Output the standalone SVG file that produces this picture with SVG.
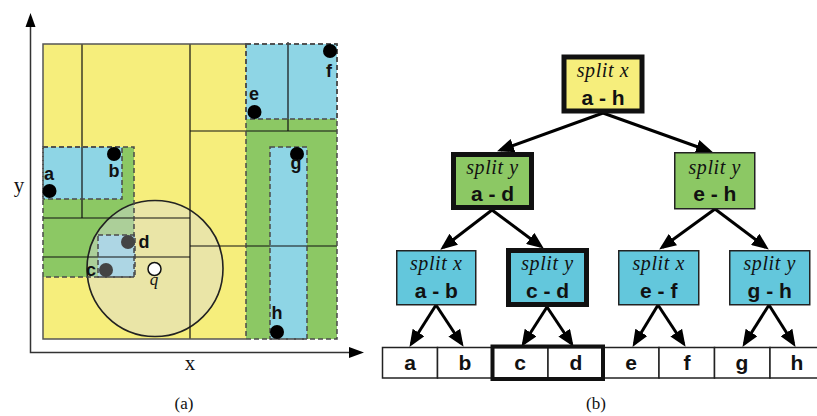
<svg xmlns="http://www.w3.org/2000/svg" width="817" height="416" viewBox="0 0 817 416">
<defs>
<style>
.dash{fill:none;stroke:#4a4a4a;stroke-width:1.5;stroke-dasharray:5,3}
.ln{stroke:#111;stroke-width:1.2;fill:none}
.pt{font-family:"Liberation Sans",Arial,sans-serif;font-weight:bold;font-size:18px;fill:#111;text-anchor:middle}
.ax{font-family:"Liberation Serif","Times New Roman",serif;font-size:21px;fill:#111;text-anchor:middle}
.cap{font-family:"Liberation Serif","Times New Roman",serif;font-size:17px;fill:#111;text-anchor:middle}
.sp{font-family:"Liberation Serif","Times New Roman",serif;font-style:italic;font-size:20px;fill:#111;text-anchor:middle;letter-spacing:0.6px}
.rg{font-family:"Liberation Sans",Arial,sans-serif;font-weight:bold;font-size:21px;fill:#111;text-anchor:middle}
.thick{stroke:#111;stroke-width:5}
.thin{stroke:#222;stroke-width:1.5}
.yl{fill:#f6ee7c}.gr{fill:#8cc864}.bl{fill:#63c7dc}
.cell{fill:#fff;stroke:#222;stroke-width:1.5}
.arr{stroke:#000;stroke-width:3;fill:none;marker-end:url(#ah)}
</style>
<marker id="ah" markerUnits="userSpaceOnUse" markerWidth="17" markerHeight="14" refX="13" refY="7" orient="auto">
<path d="M0,0 L17,7 L0,14 z" fill="#000"/>
</marker>
</defs>

<!-- panel (a) -->
<g id="panel-a">
<rect x="43" y="44" width="294" height="295" fill="#f6ee7c"/>
<rect x="43" y="147" width="91" height="130" fill="#8cc864"/>
<rect x="246" y="44" width="91" height="295" fill="#8cc864"/>
<rect x="43" y="147" width="79" height="52" fill="#8ed5e5"/>
<rect x="98" y="235" width="37" height="42" fill="#8ed5e5"/>
<rect x="246" y="44" width="91" height="75" fill="#8ed5e5"/>
<rect x="270" y="147" width="37" height="192" fill="#8ed5e5"/>
<circle cx="155" cy="268.5" r="68" fill="#dadae2" fill-opacity="0.42" stroke="#222" stroke-width="1.6"/>
<path class="ln" d="M82,44 V218 M43,218 H190 M43,257 H190 M190,44 V339 M190,131 H337 M288,42 V131 M190,246 H337"/>
<path d="M246,44 H43 V147 M43,277 V339 H246" fill="none" stroke="#555" stroke-width="1.5"/>
<rect class="dash" x="43" y="147" width="91" height="130"/>
<rect class="dash" x="43" y="147" width="79" height="52"/>
<rect class="dash" x="98" y="235" width="37" height="42"/>
<rect class="dash" x="246" y="44" width="91" height="295"/>
<rect class="dash" x="246" y="44" width="91" height="75"/>
<rect class="dash" x="270" y="147" width="37" height="192"/>
<g id="pt-a"><circle cx="49.5" cy="191" r="7" fill="#000"/><text class="pt" x="49" y="180">a</text></g>
<g id="pt-b"><circle cx="114" cy="154" r="7" fill="#000"/><text class="pt" x="114" y="177">b</text></g>
<g id="pt-c"><circle cx="106" cy="270" r="7" fill="#444"/><text class="pt" x="91" y="276">c</text></g>
<g id="pt-d"><circle cx="128" cy="242" r="7" fill="#444"/><text class="pt" x="144" y="248">d</text></g>
<g id="pt-e"><circle cx="254.5" cy="112" r="7" fill="#000"/><text class="pt" x="254" y="100">e</text></g>
<g id="pt-f"><circle cx="330" cy="51" r="7" fill="#000"/><text class="pt" x="329" y="77">f</text></g>
<g id="pt-g"><circle cx="297" cy="154" r="7" fill="#000"/><text class="pt" x="296" y="169">g</text></g>
<g id="pt-h"><circle cx="277" cy="332" r="7" fill="#000"/><text class="pt" x="277" y="319">h</text></g>
<g id="pt-q"><circle cx="154.5" cy="269" r="6.5" fill="#fff" stroke="#111" stroke-width="1.5"/><text x="154" y="285" font-family="Liberation Serif,serif" font-style="italic" font-size="17" text-anchor="middle" fill="#111">q</text></g>
<path d="M30.5,24 V352.5 H351" fill="none" stroke="#333" stroke-width="1.5"/>
<path d="M30.5,13 L35.5,27 L25.5,27 z" fill="#000"/>
<path d="M364,352.5 L349,347 L349,358 z" fill="#000"/>
<text class="ax" x="19" y="192">y</text>
<text class="ax" x="190" y="370">x</text>
<text class="cap" x="184" y="409">(a)</text>
</g>

<!-- panel (b) tree -->
<g id="connectors">
<line class="arr" x1="603" y1="113" x2="500.8" y2="150"/>
<line class="arr" x1="603" y1="113" x2="709.2" y2="151"/>
<line class="arr" x1="492" y1="210" x2="443.4" y2="247.2"/>
<line class="arr" x1="492" y1="210" x2="540.6" y2="246.2"/>
<line class="arr" x1="715" y1="209" x2="662.4" y2="247.2"/>
<line class="arr" x1="715" y1="209" x2="765.6" y2="247.2"/>
<line class="arr" x1="436" y1="305" x2="411.6" y2="343.5"/>
<line class="arr" x1="436" y1="305" x2="461.4" y2="343.5"/>
<line class="arr" x1="547" y1="307" x2="523.6" y2="343.5"/>
<line class="arr" x1="547" y1="307" x2="571.4" y2="343.5"/>
<line class="arr" x1="658" y1="305" x2="634.6" y2="343.5"/>
<line class="arr" x1="658" y1="305" x2="683.4" y2="343.5"/>
<line class="arr" x1="769" y1="305" x2="744.6" y2="343.5"/>
<line class="arr" x1="769" y1="305" x2="793.4" y2="343.5"/>
</g>

<g id="node-ah"><rect class="yl thick" x="564" y="57" width="78" height="54"/><text class="sp" x="603" y="77">split x</text><text class="rg" x="603" y="105">a - h</text></g>
<g id="node-ad"><rect class="gr thick" x="453.5" y="154.5" width="78" height="53"/><text class="sp" x="492.5" y="174">split y</text><text class="rg" x="492.5" y="201">a - d</text></g>
<g id="node-eh"><rect class="gr thin" x="674.75" y="152.75" width="80" height="56"/><text class="sp" x="714.75" y="174">split y</text><text class="rg" x="714.75" y="201">e - h</text></g>
<g id="node-ab"><rect class="bl thin" x="396.75" y="250.75" width="79" height="54"/><text class="sp" x="436.25" y="270">split x</text><text class="rg" x="436.25" y="298">a - b</text></g>
<g id="node-cd"><rect class="bl thick" x="508.5" y="250.5" width="78" height="54"/><text class="sp" x="547.5" y="270">split y</text><text class="rg" x="547.5" y="298">c - d</text></g>
<g id="node-ef"><rect class="bl thin" x="618.75" y="250.75" width="80" height="54"/><text class="sp" x="658.75" y="270">split x</text><text class="rg" x="658.75" y="298">e - f</text></g>
<g id="node-gh"><rect class="bl thin" x="729.75" y="250.75" width="80" height="54"/><text class="sp" x="769.75" y="270">split y</text><text class="rg" x="769.75" y="298">g - h</text></g>

<g id="leaves">
<rect class="cell" x="382.5" y="347.5" width="55" height="30.5"/>
<rect class="cell" x="437.5" y="347.5" width="55" height="30.5"/>
<rect class="cell" x="492.5" y="347.5" width="55.5" height="30.5"/>
<rect class="cell" x="548" y="347.5" width="55.5" height="30.5"/>
<rect class="cell" x="603.5" y="347.5" width="55.5" height="30.5"/>
<rect class="cell" x="659" y="347.5" width="55.5" height="30.5"/>
<rect class="cell" x="714.5" y="347.5" width="55.5" height="30.5"/>
<rect class="cell" x="770" y="347.5" width="55.5" height="30.5"/>
<rect x="492.5" y="346.5" width="110.5" height="32.5" fill="none" stroke="#111" stroke-width="4"/>
<text class="rg" x="410" y="370">a</text>
<text class="rg" x="465" y="370">b</text>
<text class="rg" x="520" y="370">c</text>
<text class="rg" x="576" y="370">d</text>
<text class="rg" x="631" y="370">e</text>
<text class="rg" x="687" y="370">f</text>
<text class="rg" x="742" y="370">g</text>
<text class="rg" x="797" y="370">h</text>
</g>
<text class="cap" x="596" y="409">(b)</text>
</svg>
